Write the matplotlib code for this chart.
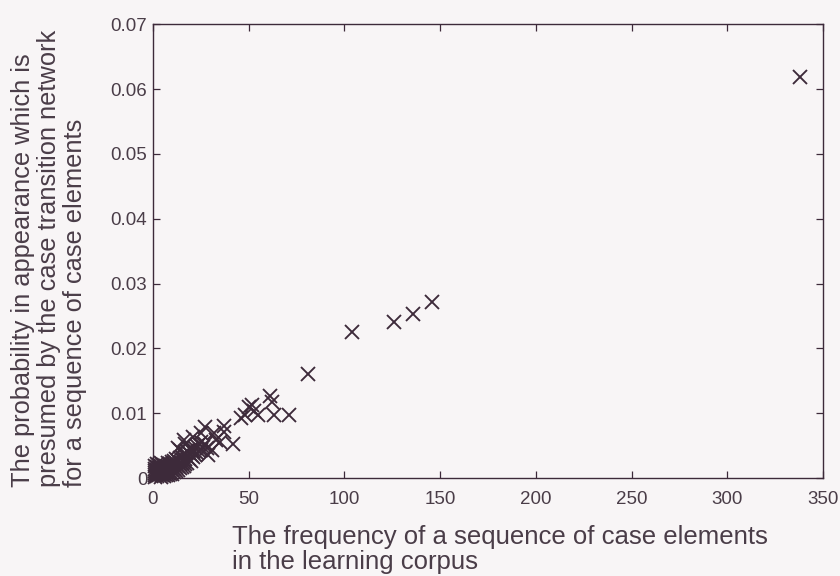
import matplotlib.pyplot as plt
from matplotlib.ticker import FuncFormatter

# frequency of a sequence of case elements (x) vs presumed probability (y)
freq = [1, 1, 1, 1, 1, 1, 2, 2, 2, 2, 2, 2, 3, 3, 3, 3, 3, 4, 4, 4, 4, 4, 4,
        5, 5, 5, 5, 5, 6, 6, 6, 6, 6, 7, 7, 7, 7, 8, 8, 8, 8, 8, 9, 9, 9, 9,
        10, 10, 10, 10, 11, 11, 11, 11, 12, 12, 12, 12, 13, 13, 13, 14, 14, 14,
        15, 15, 15, 16, 16, 16, 17, 17, 17, 18, 18, 18, 19, 19, 20, 20, 20, 21, 21,
        22, 22, 23, 23, 24, 24, 25, 25, 26, 27, 28, 14, 17, 21, 25, 13, 16,
        21, 27, 29, 31, 32, 33, 35, 37, 37, 42, 46, 48, 50, 53, 55, 52, 61,
        62, 63, 71, 81, 104, 126, 136, 146, 338]
prob = [0.0002, 0.0005, 0.0008, 0.0011, 0.0014, 0.0018, 0.0003, 0.0006, 0.0010, 0.0013, 0.0017, 0.0021,
        0.0004, 0.0008, 0.0012, 0.0016, 0.0020, 0.0002, 0.0006, 0.0010, 0.0014, 0.0018, 0.0023,
        0.0004, 0.0008, 0.0012, 0.0016, 0.0021, 0.0003, 0.0007, 0.0011, 0.0015, 0.0020,
        0.0005, 0.0010, 0.0014, 0.0019, 0.0004, 0.0008, 0.0012, 0.0017, 0.0024,
        0.0006, 0.0011, 0.0016, 0.0021, 0.0007, 0.0012, 0.0018, 0.0025, 0.0009, 0.0014, 0.0020, 0.0026,
        0.0011, 0.0017, 0.0023, 0.0029, 0.0013, 0.0019, 0.0027, 0.0015, 0.0022, 0.0031,
        0.0017, 0.0024, 0.0033, 0.0019, 0.0027, 0.0036, 0.0021, 0.0030, 0.0039, 0.0024, 0.0033, 0.0042,
        0.0029, 0.0038, 0.0027, 0.0036, 0.0045, 0.0032, 0.0042, 0.0035, 0.0047, 0.0038, 0.0050,
        0.0041, 0.0053, 0.0044, 0.0056, 0.0048, 0.0052, 0.0046, 0.0043, 0.0053, 0.0063, 0.0069,
        0.0046, 0.0058, 0.0040, 0.0079, 0.0035, 0.0043, 0.0069, 0.0058, 0.0056, 0.0081, 0.0071,
        0.0053, 0.0092, 0.0097, 0.0110, 0.0104, 0.0097, 0.0112, 0.0126, 0.0117, 0.0098, 0.0098,
        0.0161, 0.0225, 0.0241, 0.0253, 0.0271, 0.0618]

xticks = [0, 50, 100, 150, 200, 250, 300, 350]
yticks = [0, 0.01, 0.02, 0.03, 0.04, 0.05, 0.06, 0.07]

ink = '#3d2a3a'
txt = '#4a3d48'
sans = ['Liberation Sans', 'DejaVu Sans']

fig = plt.figure(figsize=(8.4, 5.76), dpi=100, facecolor='#f8f5f6')
ax = fig.add_axes([0.182, 0.170, 0.798, 0.788])
ax.set_facecolor('#f8f5f6')

ax.plot(freq, prob, linestyle='none', marker='x', markersize=9.5,
        markeredgewidth=1.35, color=ink, clip_on=False, zorder=3)

ax.set_xlim(0, 350)
ax.set_ylim(0, 0.07)
ax.set_xticks(xticks)
ax.set_yticks(yticks)
ax.yaxis.set_major_formatter(FuncFormatter(lambda v, p: '0' if v == 0 else '%.2f' % v))
ax.tick_params(direction='in', top=True, right=True, length=5, width=0.9,
               colors=ink, labelsize=13.5)
ax.tick_params(axis='x', pad=9)
ax.tick_params(axis='y', pad=4)
for lab in ax.get_xticklabels() + ax.get_yticklabels():
    lab.set_family(sans)
    lab.set_color(txt)
for s in ax.spines.values():
    s.set_color(ink)
    s.set_linewidth(1.0)

fig.text(232 / 840, 1 - 574 / 576,
         'The frequency of a sequence of case elements\nin the learning corpus',
         ha='left', va='bottom', fontsize=18.5, family=sans, color=txt,
         multialignment='left', linespacing=1.05)
fig.text(49 / 840, 1 - 487 / 576,
         'The probability in appearance which is\npresumed by the case transition network\nfor a sequence of case elements',
         rotation=90, ha='center', va='bottom', fontsize=18.3,
         family=sans, color=txt, multialignment='left', linespacing=1.08)

fig.savefig('out.png', dpi=100, facecolor=fig.get_facecolor())
